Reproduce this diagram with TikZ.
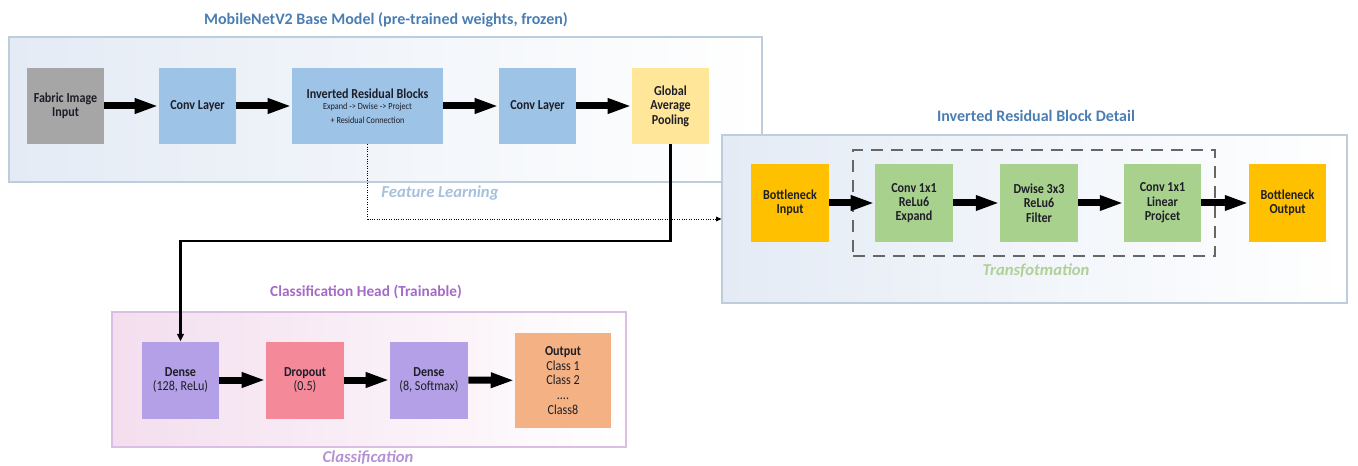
\documentclass[tikz,border=0pt]{standalone}
\usepackage{fontspec}
\setmainfont{Carlito}
\newfontfamily\boxfamily{Carlito}[FakeStretch=0.88]
\usetikzlibrary{arrows.meta,calc}
\definecolor{titleblue}{RGB}{74,126,178}
\definecolor{flblue}{RGB}{166,193,220}
\definecolor{tgreen}{RGB}{176,208,150}
\definecolor{cpurple}{RGB}{165,105,200}
\definecolor{clabel}{RGB}{182,145,212}
\definecolor{bordblue}{RGB}{190,205,220}
\definecolor{bordpurple}{RGB}{218,190,228}
\definecolor{fillblue}{RGB}{228,235,245}
\definecolor{fillpink}{RGB}{243,222,238}
\definecolor{boxgray}{RGB}{166,166,166}
\definecolor{boxblue}{RGB}{157,195,230}
\definecolor{boxyellow}{RGB}{255,230,153}
\definecolor{boxorange}{RGB}{255,192,0}
\definecolor{boxgreen}{RGB}{169,209,142}
\definecolor{boxlav}{RGB}{180,160,230}
\definecolor{boxpink}{RGB}{244,137,154}
\definecolor{boxpeach}{RGB}{244,177,131}
\definecolor{txt}{RGB}{30,30,40}
\begin{document}
\begin{tikzpicture}[x=0.75pt,y=-0.75pt,
  container/.style={draw=#1, line width=0.8pt, inner sep=0pt},
  box/.style={inner sep=0pt, minimum width=77*0.75pt, minimum height=76*0.75pt,
    align=center, text=txt, font=\boxfamily\fontsize{10.3}{10.8}\selectfont},
  title/.style={font=\fontsize{12}{14}\selectfont\bfseries, inner sep=0pt},
  sublabel/.style={font=\fontsize{12.5}{14}\selectfont\bfseries\itshape, inner sep=0pt},
  bigarrow/.style={line width=5.25pt, -{Triangle[length=18pt,width=10.5pt]}},
  feedline/.style={line width=1.9pt, -{Triangle[length=5.5pt,width=5pt]}},
  dotline/.style={line width=0.6pt, dash pattern=on 0.6pt off 1.2pt, -{Triangle[length=4pt,width=3.5pt]}}
]
\useasboundingbox (0,0) rectangle (1358,466);

% containers
\node[container=bordblue, left color=fillblue, right color=white,
  minimum width=753*0.75pt, minimum height=145*0.75pt] (c1) at (385.5,109.5) {};
\node[container=bordblue, left color=fillblue, right color=white,
  minimum width=625*0.75pt, minimum height=168*0.75pt] (c2) at (1034.5,219) {};
\node[container=bordpurple, left color=fillpink, right color=white,
  minimum width=514*0.75pt, minimum height=135*0.75pt] (c3) at (369,379.5) {};

% titles and labels
\node[title, text=titleblue] (t1) at (386,20) {MobileNetV2 Base Model (pre-trained weights, frozen)};
\node[title, text=titleblue] (t2) at (1036,116) {Inverted Residual Block Detail};
\node[title, text=cpurple, font=\fontsize{11.5}{14}\selectfont\bfseries] (t3) at (366,292) {Classification Head (Trainable)};
\node[sublabel, text=flblue] (l1) at (440,193) {Feature Learning};
\node[sublabel, text=tgreen] (l2) at (1036,271) {Transfotmation};
\node[sublabel, text=clabel] (l3) at (368,458) {Classification};

% dashed transformation frame
\node[draw=black!60, dash pattern=on 9pt off 6pt, line width=0.9pt, inner sep=0pt,
  minimum width=362*0.75pt, minimum height=106*0.75pt] (tf) at (1034,203) {};

% top row
\node[box, fill=boxgray] (fab) at (65.5,106) {\bfseries Fabric Image\\\bfseries Input};
\node[box, fill=boxblue] (cv1) at (197.5,106) {\bfseries Conv Layer};
\node[box, fill=boxblue, minimum width=151*0.75pt] (irb) at (367.5,106)
  {\bfseries Inverted Residual Blocks\\[-2pt]
   {\fontsize{7}{8}\selectfont Expand -> Dwise -> Project}\\[-0.5pt]
   {\fontsize{7}{8}\selectfont + Residual Connection}};
\node[box, fill=boxblue] (cv2) at (537.5,106) {\bfseries Conv Layer};
\node[box, fill=boxyellow] (gap) at (670.5,106) {\bfseries Global\\\bfseries Average\\\bfseries Pooling};

% detail row
\node[box, fill=boxorange, minimum height=78*0.75pt, minimum width=78*0.75pt] (bin) at (790,203) {\bfseries Bottleneck\\\bfseries Input};
\node[box, fill=boxgreen, minimum height=78*0.75pt, minimum width=78*0.75pt] (ex) at (914,203) {\bfseries Conv 1x1\\\bfseries ReLu6\\\bfseries Expand};
\node[box, fill=boxgreen, minimum height=78*0.75pt, minimum width=78*0.75pt] (dw) at (1039,203) {\bfseries Dwise 3x3\\\bfseries ReLu6\\\bfseries Filter};
\node[box, fill=boxgreen, minimum height=78*0.75pt, minimum width=77*0.75pt] (pj) at (1162.5,203) {\bfseries Conv 1x1\\\bfseries Linear\\\bfseries Projcet};
\node[box, fill=boxorange, minimum height=78*0.75pt, minimum width=77*0.75pt] (bout) at (1287.5,203) {\bfseries Bottleneck\\\bfseries Output};

% bottom row
\node[box, fill=boxlav, minimum height=77*0.75pt] (d1) at (180.5,380) {\bfseries Dense\\(128, ReLu)};
\node[box, fill=boxpink, minimum height=77*0.75pt, minimum width=78*0.75pt] (dr) at (305,380) {\bfseries Dropout\\(0.5)};
\node[box, fill=boxlav, minimum height=77*0.75pt, minimum width=78*0.75pt] (d2) at (429,380) {\bfseries Dense\\(8, Softmax)};
\node[box, fill=boxpeach, minimum height=95*0.75pt, minimum width=96*0.75pt,
  font=\boxfamily\fontsize{10.3}{10.9}\selectfont] (out) at (563,380.5) {\bfseries Output\\Class 1\\Class 2\\....\\Class8};

% thick arrows
\draw[bigarrow] (fab) -- (cv1);
\draw[bigarrow] (cv1) -- (irb);
\draw[bigarrow] (irb) -- (cv2);
\draw[bigarrow] (cv2) -- (gap);
\draw[bigarrow] (bin) -- (ex);
\draw[bigarrow] (ex) -- (dw);
\draw[bigarrow] (dw) -- (pj);
\draw[bigarrow] (pj) -- (bout);
\draw[bigarrow] (d1) -- (dr);
\draw[bigarrow] (dr) -- (d2);
\draw[bigarrow] (d2) -- (out);

% connectors
\draw[dotline] (irb.south) |- (c2.west);
\coordinate (bend) at (180.5,241);
\draw[feedline] (gap.south) |- (bend) -- (d1.north);
\end{tikzpicture}
\end{document}
